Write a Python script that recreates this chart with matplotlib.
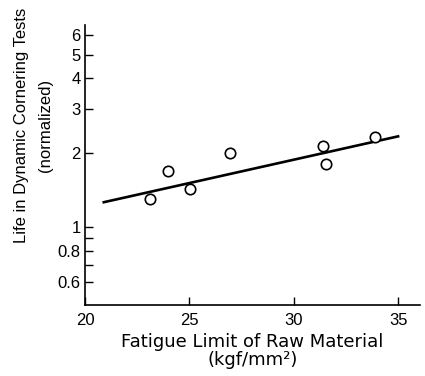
import matplotlib
matplotlib.use('Agg')
import matplotlib.pyplot as plt
from matplotlib.ticker import FixedLocator, NullFormatter

plt.rcParams['font.family'] = ['Liberation Sans', 'DejaVu Sans']

# data
fatigue_limit = [23.1, 24.0, 25.05, 26.95, 31.4, 31.55, 33.9]
life = [1.30, 1.69, 1.42, 1.99, 2.13, 1.80, 2.31]

# regression line end points
fit_x = [20.9, 35.0]
fit_y = [1.26, 2.33]

x_ticks = [20, 25, 30, 35]
y_major = [0.6, 0.8, 1, 2, 3, 4, 5, 6]
y_labels = ['0.6', '0.8', '1', '2', '3', '4', '5', '6']
y_minor = [0.7, 0.9]

fig = plt.figure(figsize=(4.25, 3.76), dpi=100)
ax = fig.add_axes([85 / 425, 0.189, 335 / 425, 0.745])

ax.plot(fit_x, fit_y, color='black', lw=1.9)
ax.plot(fatigue_limit, life, 'o', mfc='white', mec='black', mew=1.2, ms=7.5)

ax.set_yscale('log')
ax.set_ylim(0.483, 6.6)
ax.set_xlim(20, 36.05)

ax.yaxis.set_major_locator(FixedLocator(y_major))
ax.set_yticklabels(y_labels)
ax.yaxis.set_minor_locator(FixedLocator(y_minor))
ax.yaxis.set_minor_formatter(NullFormatter())
ax.set_xticks(x_ticks)

for s in ['top', 'right']:
    ax.spines[s].set_visible(False)
for s in ['left', 'bottom']:
    ax.spines[s].set_linewidth(1.2)

ax.tick_params(axis='both', which='both', direction='in', length=6, width=1.0,
               labelsize=12)
ax.tick_params(axis='x', pad=6)
ax.tick_params(axis='y', pad=3)

ax.set_xlabel('Fatigue Limit of Raw Material\n(kgf/mm²)', fontsize=13,
              family='DejaVu Sans', linespacing=1.0)
ax.set_ylabel('Life in Dynamic Cornering Tests\n(normalized)', fontsize=12,
              linespacing=1.75)
ax.yaxis.set_label_coords(-0.095, 0.64)
ax.xaxis.set_label_coords(0.5, -0.1)
ax.xaxis.label.set_va('top')

fig.savefig('out.png', dpi=100)
